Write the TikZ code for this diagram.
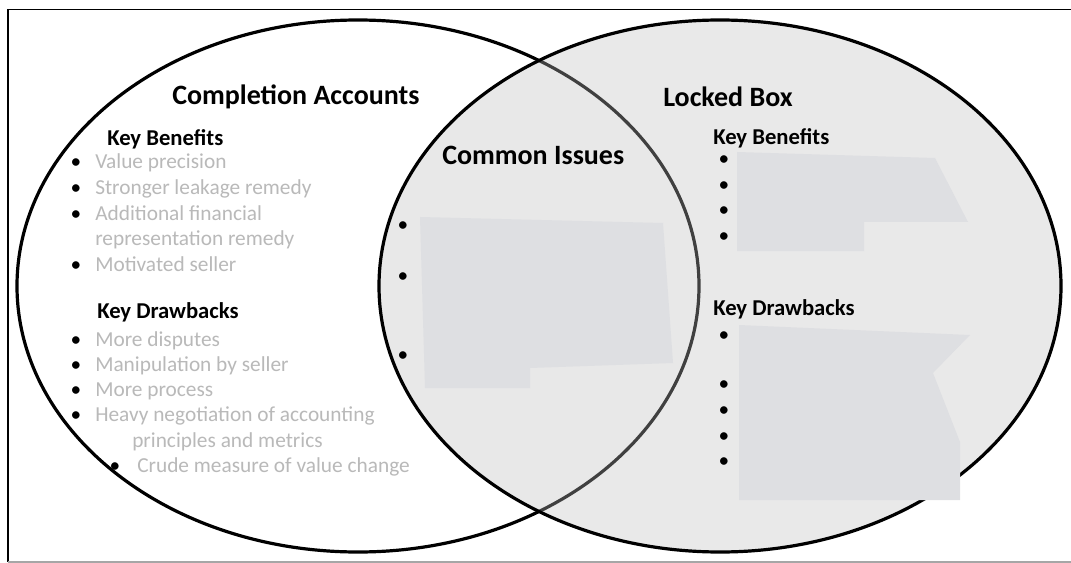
\documentclass[tikz,border=0pt]{standalone}
\usepackage{fontspec}
\setmainfont{Carlito}

\definecolor{lensgray}{RGB}{190,190,190}
\definecolor{fadetext}{RGB}{185,185,185}
\definecolor{patchgray}{RGB}{222,223,226}

\begin{document}
\begin{tikzpicture}[x=0.75pt,y=-0.75pt,
	settitle/.style={font=\bfseries\fontsize{21}{25}\selectfont, inner sep=0pt, anchor=base west},
	sethead/.style={font=\bfseries\fontsize{17}{20}\selectfont, inner sep=0pt, anchor=base west},
	setitem/.style={font=\fontsize{16}{19}\selectfont, text=fadetext, inner sep=0pt, anchor=base west},
	setdot/.style={font=\fontsize{16}{19}\selectfont, inner sep=0pt, anchor=base},
	patch/.style={fill=patchgray, draw=none}]
	\useasboundingbox (0,0) rectangle (1071,563);
	% frame
	\draw[line width=1pt] (8,562) -- (8,9.5) -- (1071,9.5);
	\draw[line width=1pt, gray!70] (8,562) -- (1071,562);
	% the two sets
	\draw[line width=2.4pt, fill=white] (358,286) ellipse [x radius=255.75pt, y radius=199.5pt];
	\fill[lensgray, fill opacity=0.34] (720,286) ellipse [x radius=255.75pt, y radius=199.5pt];
	\draw[line width=2.4pt] (720,286) ellipse [x radius=255.75pt, y radius=199.5pt];
	% hidden text blocks
	\fill[patch] (420,217) -- (663,223) -- (673,363) -- (530,368) -- (530,388) -- (425,388) -- cycle;
	\fill[patch] (737,152) -- (935,158) -- (968,222) -- (864,222) -- (864,251) -- (737,251) -- cycle;
	\fill[patch] (739,325) -- (970,335) -- (933,373) -- (960,442) -- (960,500) -- (739,500) -- cycle;
	% titles
	\node[settitle] (caTitle) at (172,105) {Completion Accounts};
	\node[settitle] (lbTitle) at (663,107) {Locked Box};
	\node[settitle] (ciTitle) at (442,165) {Common Issues};
	% completion accounts
	\node[sethead] (caBen) at (107,146) {Key Benefits};
	\node[setitem] (caB1) at (95,169) {Value precision};
	\node[setitem] (caB2) at (95,194.5) {Stronger leakage remedy};
	\node[setitem] (caB3) at (95,220) {Additional financial};
	\node[setitem] (caB3b) at (95,245.5) {representation remedy};
	\node[setitem] (caB4) at (95,271) {Motivated seller};
	\foreach \y [count=\i] in {169,194.5,220,271}
		\node[setdot] (caBd\i) at (76,\y) {•};
	\node[sethead] (caDra) at (97,318) {Key Drawbacks};
	\node[setitem] (caD1) at (95,346) {More disputes};
	\node[setitem] (caD2) at (95,371) {Manipulation by seller};
	\node[setitem] (caD3) at (95,396) {More process};
	\node[setitem] (caD4) at (95,421) {Heavy negotiation of accounting};
	\node[setitem] (caD4b) at (132,447) {principles and metrics};
	\node[setitem] (caD5) at (137,472) {Crude measure of value change};
	\foreach \y [count=\i] in {346,371,396,421}
		\node[setdot] (caDd\i) at (76,\y) {•};
	\node[setdot] (caDd5) at (115,472) {•};
	% common issues
	\foreach \y [count=\i] in {232,282,361}
		\node[setdot] (ciDot\i) at (403,\y) {•};
	% locked box
	\node[sethead] (lbBen) at (713,145) {Key Benefits};
	\foreach \y [count=\i] in {166,191,216,243}
		\node[setdot] (lbBd\i) at (724,\y) {•};
	\node[sethead] (lbDra) at (713,315) {Key Drawbacks};
	\foreach \y [count=\i] in {341,390,416,442,467}
		\node[setdot] (lbDd\i) at (724,\y) {•};
\end{tikzpicture}
\end{document}
